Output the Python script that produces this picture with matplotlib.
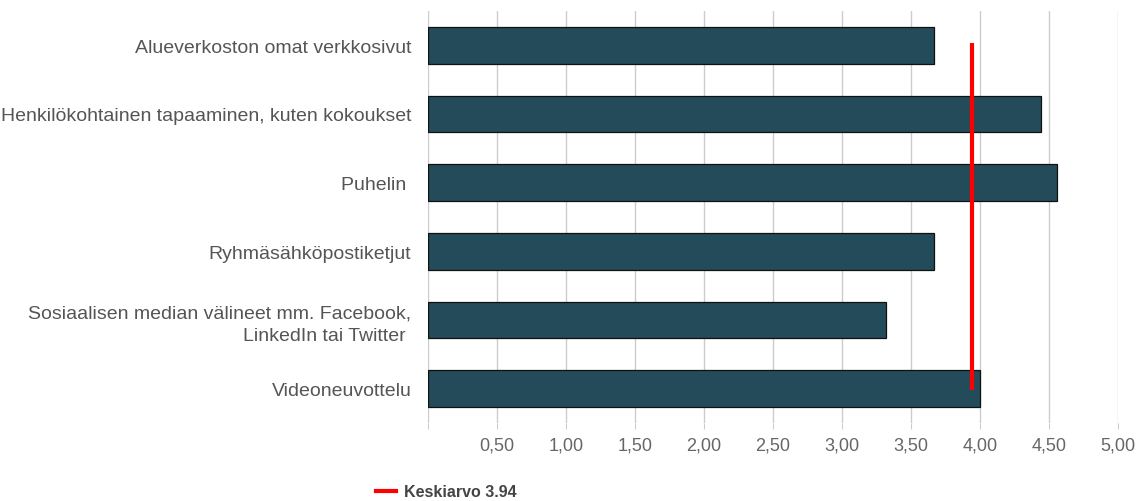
import matplotlib
matplotlib.use("Agg")
import matplotlib.pyplot as plt
from matplotlib.lines import Line2D

# ── data ─────────────────────────────────────────────────────────────────────
categories = [
    "Alueverkoston omat verkkosivut",
    "Henkilökohtainen tapaaminen, kuten kokoukset",
    "Puhelin ",
    "Ryhmäsähköpostiketjut",
    "Sosiaalisen median välineet mm. Facebook,\nLinkedIn tai Twitter ",
    "Videoneuvottelu",
]
values = [3.67, 4.44, 4.56, 3.67, 3.32, 4.00]
mean_value = 3.94
ticks = [0, 0.5, 1.0, 1.5, 2.0, 2.5, 3.0, 3.5, 4.0, 4.5, 5.0]
tick_labels = [""] + [f"{t:.2f}".replace(".", ",") for t in ticks[1:]]

plt.rcParams["font.family"] = ["Liberation Sans", "DejaVu Sans"]

fig = plt.figure(figsize=(11.4, 5.02), dpi=100)
ax = fig.add_axes([428 / 1140, 1 - 424 / 502, 690 / 1140, 412 / 502])

y = list(range(len(categories)))
ax.barh(y, values, height=0.535, color="#234B5A", edgecolor="#111111",
        linewidth=0.9, zorder=3)

# mean line
ax.plot([mean_value, mean_value], [-0.03, 5.02], color="#FF0000", lw=3,
        solid_capstyle="butt", zorder=4)

ax.set_xlim(0, 5)
ax.set_ylim(len(categories) - 0.5, -0.5)
ax.set_xticks(ticks)
ax.set_xticklabels(tick_labels, fontsize=13, color="#666666")
ax.set_yticks(y)
ax.set_yticklabels(categories, fontsize=14, color="#555555",
                   multialignment="right", linespacing=1.35)

ax.grid(axis="x", color="#cccccc", lw=1, zorder=0)
for s in ax.spines.values():
    s.set_visible(False)
ax.tick_params(axis="x", length=4, color="#cccccc", pad=6)
ax.tick_params(axis="y", length=0, pad=12)

# legend
handle = Line2D([0], [0], color="#FF0000", lw=3)
leg = fig.legend([handle], [f"Keskiarvo {mean_value:.2f}"],
                 loc="center left", bbox_to_anchor=(362 / 1140, 1 - 493 / 502),
                 frameon=False, handlelength=1.2, handletextpad=0.5,
                 prop={"size": 11.5, "weight": "bold"})
for t in leg.get_texts():
    t.set_color("#444444")

fig.savefig("out.png", dpi=100)
